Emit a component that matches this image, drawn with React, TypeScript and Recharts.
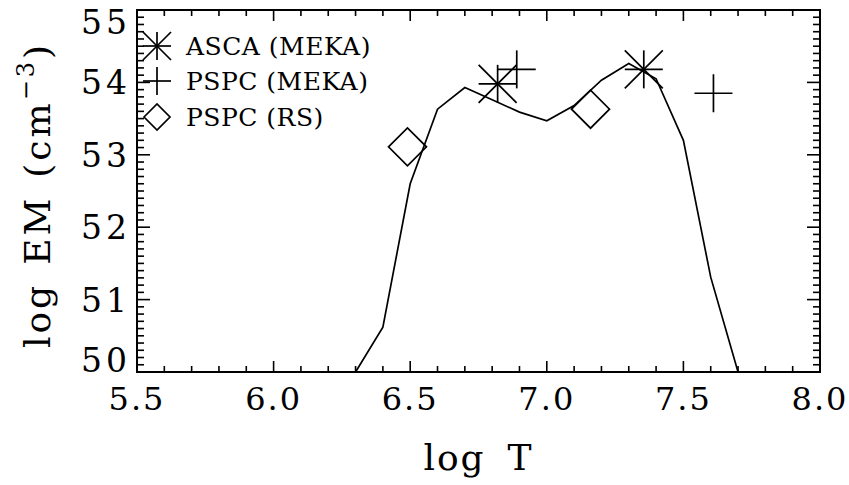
import { ComposedChart, Line, Scatter, XAxis, YAxis, ReferenceArea } from 'recharts';

// DEM curve
const curveT = [6.3, 6.4, 6.5, 6.6, 6.7, 6.8, 6.9, 7.0, 7.1, 7.2, 7.3, 7.4, 7.5, 7.6, 7.7];
const curveEM = [50.0, 50.62, 52.6, 53.63, 53.93, 53.76, 53.59, 53.47, 53.68, 54.03, 54.26, 54.05, 53.2, 51.31, 50.0];

// fitted components
const ascaT = [6.82, 7.355];
const ascaEM = [53.98, 54.18];
const mekaT = [6.89, 7.61];
const mekaEM = [54.18, 53.85];
const rsT = [6.49, 7.16];
const rsEM = [53.11, 53.63];

const xTicks = [5.5, 6.0, 6.5, 7.0, 7.5, 8.0];
const yTicks = [50, 51, 52, 53, 54, 55];
const legendLabels = ['ASCA (MEKA)', 'PSPC (MEKA)', 'PSPC (RS)'];

const FONT = '"DejaVu Serif", serif';
const INK = '#000';

const W = 849;
const H = 485;
const MARGIN = { top: 10, right: 29, left: 0, bottom: 0 };
const Y_AXIS_W = 137;
const X_AXIS_H = 113;
const X_DOMAIN = [5.5, 8];
const Y_DOMAIN = [50, 55];

const toPoints = (t: number[], em: number[]) => t.map((v, i) => ({ t: v, em: em[i] }));

// minor ticks every 0.1 in both directions
const xMinor = Array.from({ length: 24 }, (_, i) => Math.round((5.6 + i * 0.1) * 10) / 10);
const yMinor = Array.from({ length: 49 }, (_, i) => Math.round((50.1 + i * 0.1) * 10) / 10);

// plot box follows from the margins and axis sizes above
const box = {
  left: MARGIN.left + Y_AXIS_W,
  top: MARGIN.top,
  right: W - MARGIN.right,
  bottom: H - MARGIN.bottom - X_AXIS_H,
};
const px = (t: number) => box.left + ((t - X_DOMAIN[0]) / (X_DOMAIN[1] - X_DOMAIN[0])) * (box.right - box.left);
const py = (v: number) => box.bottom - ((v - Y_DOMAIN[0]) / (Y_DOMAIN[1] - Y_DOMAIN[0])) * (box.bottom - box.top);

type Seg = { k: string; x1: number; y1: number; x2: number; y2: number };
const tickSegs: Seg[] = [];
xMinor.forEach((t) => {
  const len = Math.abs(t * 2 - Math.round(t * 2)) < 1e-6 ? 11 : 6;
  const x = px(t);
  tickSegs.push({ k: `b${t}`, x1: x, y1: box.bottom, x2: x, y2: box.bottom - len });
  tickSegs.push({ k: `t${t}`, x1: x, y1: box.top, x2: x, y2: box.top + len });
});
yMinor.forEach((v) => {
  const len = Math.abs(v - Math.round(v)) < 1e-6 ? 13 : 7;
  const y = py(v);
  tickSegs.push({ k: `l${v}`, x1: box.left, y1: y, x2: box.left + len, y2: y });
  tickSegs.push({ k: `r${v}`, x1: box.right, y1: y, x2: box.right - len, y2: y });
});

const Asterisk = ({ cx, cy, r = 19 }: any) => (
  <g stroke={INK} strokeWidth={1.7}>
    <line x1={cx - r} y1={cy} x2={cx + r} y2={cy} />
    <line x1={cx} y1={cy - r} x2={cx} y2={cy + r} />
    <line x1={cx - r} y1={cy - r} x2={cx + r} y2={cy + r} />
    <line x1={cx - r} y1={cy + r} x2={cx + r} y2={cy - r} />
  </g>
);

const Plus = ({ cx, cy, r = 19 }: any) => (
  <g stroke={INK} strokeWidth={1.7}>
    <line x1={cx - r} y1={cy} x2={cx + r} y2={cy} />
    <line x1={cx} y1={cy - r} x2={cx} y2={cy + r} />
  </g>
);

const Diamond = ({ cx, cy, r = 19 }: any) => (
  <path
    d={`M${cx - r},${cy} L${cx},${cy - r} L${cx + r},${cy} L${cx},${cy + r} Z`}
    fill="none"
    stroke={INK}
    strokeWidth={1.7}
  />
);

const XTick = ({ x, y, payload }: any) => (
  <text x={x} y={y + 38} textAnchor="middle" fontFamily={FONT} fontSize={32} letterSpacing={2} fill={INK}>
    {Number(payload.value).toFixed(1)}
  </text>
);

// labels at the ends are pulled inside the frame height like the original
const YTick = ({ x, y, payload }: any) => {
  const cy = Math.min(Math.max(y, 22), 360);
  return (
    <text x={x - 6} y={cy + 12} textAnchor="end" fontFamily={FONT} fontSize={33} letterSpacing={4} fill={INK}>
      {payload.value}
    </text>
  );
};

export default function App() {
  return (
    <div style={{ position: 'absolute', left: 0, top: 0, width: W, height: H, background: '#fff' }}>
      <ComposedChart width={W} height={H} margin={MARGIN}>
        <XAxis
          type="number"
          dataKey="t"
          domain={X_DOMAIN}
          ticks={xTicks}
          height={X_AXIS_H}
          tickLine={false}
          axisLine={false}
          tickSize={0}
          tickMargin={0}
          tick={<XTick />}
          interval={0}
          label={{
            content: ({ viewBox }: any) => (
              <text
                x={viewBox.x + viewBox.width / 2}
                y={viewBox.y + 98}
                textAnchor="middle"
                fontFamily={FONT}
                fontSize={36}
                letterSpacing={2}
                fill={INK}
              >
                log<tspan dx={22}>T</tspan>
              </text>
            ),
          }}
        />
        <YAxis
          type="number"
          dataKey="em"
          domain={Y_DOMAIN}
          ticks={yTicks}
          width={Y_AXIS_W}
          tickLine={false}
          axisLine={false}
          tickSize={0}
          tickMargin={0}
          tick={<YTick />}
          interval={0}
          label={{
            content: ({ viewBox }: any) => {
              const cx = viewBox.x + 50;
              const cy = viewBox.y + viewBox.height / 2 + 4;
              return (
                <text
                  x={cx}
                  y={cy}
                  transform={`rotate(-90, ${cx}, ${cy})`}
                  textAnchor="middle"
                  fontFamily={FONT}
                  fontSize={36}
                  letterSpacing={3}
                  fill={INK}
                >
                  log<tspan dx={18}>EM</tspan>
                  <tspan dx={18}>(cm</tspan>
                  <tspan fontSize={24} dy={-16}>−3</tspan>
                  <tspan dy={16}>)</tspan>
                </text>
              );
            },
          }}
        />

        <ReferenceArea x1={5.5} x2={8} y1={50} y2={55} fill="none" stroke={INK} strokeWidth={2} ifOverflow="visible" />

        <Line
          data={toPoints(curveT, curveEM)}
          dataKey="em"
          type="linear"
          stroke={INK}
          strokeWidth={1.7}
          dot={false}
          activeDot={false}
          isAnimationActive={false}
        />
        <Scatter data={toPoints(ascaT, ascaEM)} dataKey="em" shape={<Asterisk />} isAnimationActive={false} />
        <Scatter data={toPoints(mekaT, mekaEM)} dataKey="em" shape={<Plus />} isAnimationActive={false} />
        <Scatter data={toPoints(rsT, rsEM)} dataKey="em" shape={<Diamond />} isAnimationActive={false} />

        <g>
          <Asterisk cx={157} cy={46} r={14} />
          <Plus cx={157} cy={81} r={14} />
          <Diamond cx={157} cy={117} r={13} />
          {legendLabels.map((lab, i) => (
            <text
              key={lab}
              x={186}
              y={[46, 81, 117][i] + 9}
              fontFamily={FONT}
              fontSize={25}
              letterSpacing={0.5}
              fill={INK}
            >
              {lab}
            </text>
          ))}
        </g>
      </ComposedChart>
      {/* inward frame ticks, laid over the chart */}
      <svg
        width={W}
        height={H}
        style={{ position: 'absolute', left: 0, top: 0, pointerEvents: 'none' }}
      >
        {tickSegs.map((s) => (
          <line key={s.k} x1={s.x1} y1={s.y1} x2={s.x2} y2={s.y2} stroke="#000000" strokeWidth={1.6} />
        ))}
      </svg>
    </div>
  );
}
